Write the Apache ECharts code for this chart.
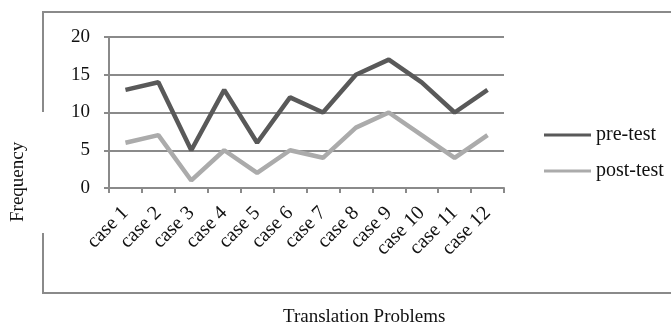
<!DOCTYPE html>
<html>
<head>
<meta charset="utf-8">
<script src="https://cdn.jsdelivr.net/npm/echarts@6/dist/echarts.min.js"></script>
<style>
html,body{margin:0;padding:0;background:#fff;}
#chart{width:671px;height:322px;}
</style>
</head>
<body>
<div id="chart"></div>
<script>
const categories = ["case 1","case 2","case 3","case 4","case 5","case 6","case 7","case 8","case 9","case 10","case 11","case 12"];
const preTest = [13,14,5,13,6,12,10,15,17,14,10,13];
const postTest = [6,7,1,5,2,5,4,8,10,7,4,7];
const seriesNames = ["pre-test","post-test"];
const yTicks = [0,5,10,15,20];
const xTitle = "Translation Problems";
const yTitle = "Frequency";

const FONT = '"Liberation Serif", "Times New Roman", serif';
const GRIDC = '#8a8a8a';
const chart = echarts.init(document.getElementById('chart'));
chart.setOption({
  animation:false,
  textStyle:{fontFamily:FONT},
  grid:{left:109,right:167,top:37,bottom:134,containLabel:false},
  legend:{
    orient:'vertical', left:539, top:120, itemWidth:47, itemHeight:3, itemGap:16,
    icon:'rect',
    textStyle:{fontFamily:FONT,fontSize:20,color:'#111'},
    data:seriesNames
  },
  xAxis:{
    type:'category', data:categories, boundaryGap:true,
    axisLine:{lineStyle:{color:GRIDC,width:2}},
    axisTick:{show:true,alignWithLabel:false,length:5,lineStyle:{color:GRIDC,width:2}},
    axisLabel:{rotate:45,margin:22,fontFamily:FONT,fontSize:20,color:'#111',interval:0}
  },
  yAxis:{
    type:'value', min:yTicks[0], max:yTicks[yTicks.length-1], interval:5,
    axisLine:{show:true,lineStyle:{color:GRIDC,width:2}},
    axisTick:{show:true,length:5,lineStyle:{color:GRIDC,width:2}},
    axisLabel:{margin:19,fontFamily:FONT,fontSize:19,color:'#111'},
    splitLine:{show:true,lineStyle:{color:GRIDC,width:2}}
  },
  series:[
    {name:seriesNames[0],type:'line',data:preTest,symbol:'none',lineStyle:{color:'#595959',width:4.5},itemStyle:{color:'#595959'}},
    {name:seriesNames[1],type:'line',data:postTest,symbol:'none',lineStyle:{color:'#ababab',width:4.5},itemStyle:{color:'#ababab'}}
  ],
  graphic:[
    {type:'polyline',shape:{points:[[43,112],[43,12],[671,12]]},style:{stroke:GRIDC,lineWidth:2,fill:null}},
    {type:'polyline',shape:{points:[[43,233],[43,293],[671,293]]},style:{stroke:GRIDC,lineWidth:2,fill:null}},
    {type:'text',left:283,top:308,style:{text:xTitle,font:'19px '+FONT,fill:'#111'}},
    {type:'text',rotation:Math.PI/2,x:9,y:222,style:{text:yTitle,font:'19px '+FONT,fill:'#111'}}
  ]
});
</script>
</body>
</html>
